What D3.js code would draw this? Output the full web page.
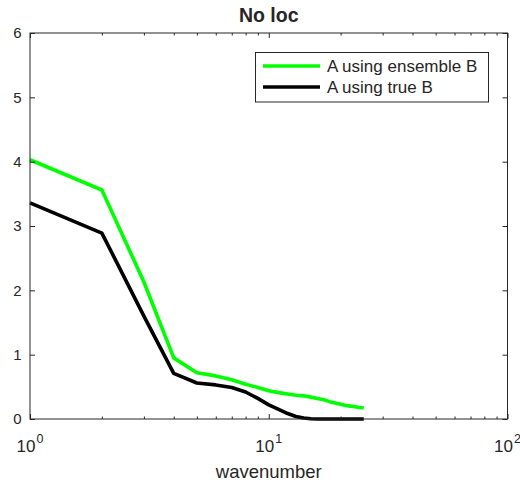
<!DOCTYPE html>
<html>
<head>
<meta charset="utf-8">
<script src="https://cdn.jsdelivr.net/npm/d3@7"></script>
<style>
  html, body { margin: 0; padding: 0; background: #fff; }
  svg { display: block; }
  text { font-family: "Liberation Sans", Arial, Helvetica, sans-serif; fill: #262626; }
</style>
</head>
<body>
<svg id="chart" width="520" height="484"></svg>
<script>
// Wavenumbers and the two spectra
const wavenumber = [1, 2, 3, 4, 5, 6, 7, 8, 9, 10, 11, 12, 13, 14, 15, 16, 17, 18, 19, 20, 21, 22, 23, 24, 25];
const ensembleB = [4.03, 3.56, 2.13, 0.95, 0.72, 0.67, 0.61, 0.54, 0.49, 0.44, 0.41, 0.39, 0.37, 0.36, 0.34, 0.32, 0.30, 0.27, 0.25, 0.23, 0.21, 0.20, 0.19, 0.18, 0.17];
const trueB = [3.36, 2.89, 1.60, 0.71, 0.56, 0.53, 0.49, 0.42, 0.32, 0.22, 0.15, 0.085, 0.04, 0.015, 0.005, 0, 0, 0, 0, 0, 0, 0, 0, 0, 0];

const seriesNames = ["A using ensemble B", "A using true B"];
const seriesColors = ["#00ff00", "#000000"];
const yTicks = [0, 1, 2, 3, 4, 5, 6];
const xMajorTicks = [1, 10, 100];
const xMinorTicks = [2, 3, 4, 5, 6, 7, 8, 9, 20, 30, 40, 50, 60, 70, 80, 90];
const titleText = "No loc";
const xLabelText = "wavenumber";

const svg = d3.select("#chart");
const L = 30, R = 507.5, T = 33, B = 419;
const axisColor = "#262626";

const x = d3.scaleLog().domain([1, 100]).range([L, R]);
const y = d3.scaleLinear().domain([0, 6]).range([B, T]);

// Plot box
svg.append("rect")
  .attr("x", L).attr("y", T).attr("width", R - L).attr("height", B - T)
  .attr("fill", "#fff").attr("stroke", "none");

// Data lines
const line = d3.line().x((d, i) => x(wavenumber[i])).y(d => y(d));
[ensembleB, trueB].forEach((vals, s) => {
  svg.append("path")
    .datum(vals)
    .attr("d", line)
    .attr("fill", "none")
    .attr("stroke", seriesColors[s])
    .attr("stroke-width", 3.6)
    .attr("stroke-linejoin", "round")
    .attr("stroke-linecap", "butt");
});

// Axis ticks (inward) via d3 axes, with tick labels drawn separately
const bottomMajor = d3.axisBottom(x).tickValues(xMajorTicks).tickSize(-5).tickFormat("");
const bottomMinor = d3.axisBottom(x).tickValues(xMinorTicks).tickSize(-2.5).tickFormat("");
const topMajor = d3.axisTop(x).tickValues(xMajorTicks).tickSize(-5).tickFormat("");
const topMinor = d3.axisTop(x).tickValues(xMinorTicks).tickSize(-2.5).tickFormat("");
const leftAx = d3.axisLeft(y).tickValues(yTicks).tickSize(-5).tickFormat("");
const rightAx = d3.axisRight(y).tickValues(yTicks).tickSize(-5).tickFormat("");

function styleAxis(g) {
  g.select(".domain").remove();
  g.selectAll(".tick line").attr("stroke", axisColor).attr("stroke-width", 1);
}
svg.append("g").attr("transform", `translate(0,${B})`).call(bottomMajor).call(styleAxis);
svg.append("g").attr("transform", `translate(0,${B})`).call(bottomMinor).call(styleAxis);
svg.append("g").attr("transform", `translate(0,${T})`).call(topMajor).call(styleAxis);
svg.append("g").attr("transform", `translate(0,${T})`).call(topMinor).call(styleAxis);
svg.append("g").attr("transform", `translate(${L},0)`).call(leftAx).call(styleAxis);
svg.append("g").attr("transform", `translate(${R},0)`).call(rightAx).call(styleAxis);

// Box outline
svg.append("rect")
  .attr("x", L).attr("y", T).attr("width", R - L).attr("height", B - T)
  .attr("fill", "none").attr("stroke", axisColor).attr("stroke-width", 1);

// Y tick labels
svg.append("g").selectAll("text").data(yTicks).join("text")
  .attr("x", L - 8.5)
  .attr("y", d => y(d))
  .attr("dy", "0.36em")
  .attr("text-anchor", "end")
  .attr("font-size", 15)
  .text(d => d);

// X tick labels: 10 with superscript exponent
const xl = svg.append("g").selectAll("text").data(xMajorTicks).join("text")
  .attr("x", d => x(d))
  .attr("y", 452)
  .attr("text-anchor", "middle")
  .attr("font-size", 17);
xl.append("tspan").text("10");
xl.append("tspan")
  .attr("font-size", 12.5)
  .attr("dy", -9)
  .attr("dx", 1)
  .text(d => Math.round(Math.log10(d)));

// Title and axis label
svg.append("text")
  .attr("x", (L + R) / 2).attr("y", 22)
  .attr("text-anchor", "middle")
  .attr("font-size", 19.5).attr("font-weight", "bold")
  .attr("fill", "#000")
  .text(titleText);

svg.append("text")
  .attr("x", (L + R) / 2).attr("y", 478)
  .attr("text-anchor", "middle")
  .attr("font-size", 18.5)
  .text(xLabelText);

// Legend
const lg = svg.append("g");
lg.append("rect")
  .attr("x", 255.5).attr("y", 52.5).attr("width", 233).attr("height", 49.5)
  .attr("fill", "#fff").attr("stroke", axisColor).attr("stroke-width", 1);
const rows = [66, 87];
seriesNames.forEach((name, i) => {
  lg.append("line")
    .attr("x1", 263).attr("x2", 320)
    .attr("y1", rows[i]).attr("y2", rows[i])
    .attr("stroke", seriesColors[i]).attr("stroke-width", 3.6);
  lg.append("text")
    .attr("x", 327).attr("y", rows[i])
    .attr("dy", "0.36em")
    .attr("font-size", 17)
    .attr("fill", "#000")
    .text(name);
});
</script>
</body>
</html>
